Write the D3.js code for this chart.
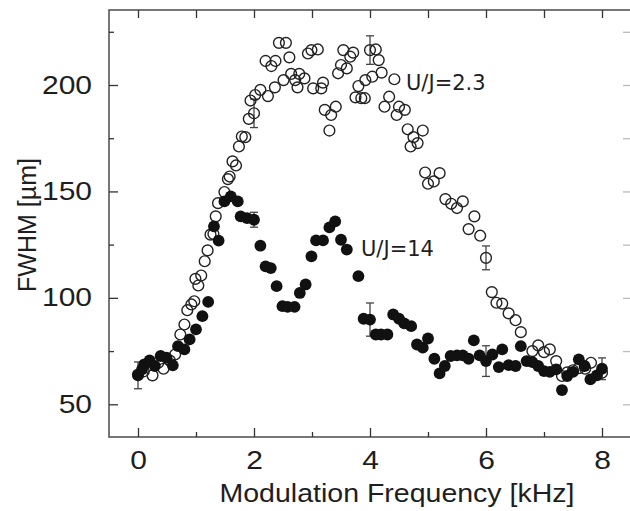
<!DOCTYPE html>
<html>
<head>
<meta charset="utf-8">
<script src="https://cdn.jsdelivr.net/npm/d3@7"></script>
<style>
  body { margin: 0; background: #fff; }
  svg { display: block; }
</style>
</head>
<body>
<svg width="630" height="511"></svg>
<script>
// U/J = 14  (filled circles), [kHz, FWHM um]
var strongData = [
  [0.00, 63.6], [0.07, 66.4], [0.11, 68.8], [0.20, 70.6], [0.29, 68.0], [0.39, 72.7],
  [0.49, 71.9], [0.60, 68.3], [0.69, 77.3], [0.80, 75.8], [0.89, 80.5], [1.00, 85.2],
  [1.11, 91.4], [1.21, 98.1], [1.31, 133.6], [1.39, 126.9], [1.49, 145.3], [1.60, 147.7],
  [1.72, 145.3], [1.77, 138.3], [1.88, 137.5], [2.00, 136.7], [2.11, 124.5], [2.20, 114.8],
  [2.29, 114.0], [2.39, 105.5], [2.49, 96.1], [2.58, 95.8], [2.70, 95.8], [2.79, 102.3],
  [2.89, 106.3], [2.99, 119.5], [3.07, 127.0], [3.19, 127.0], [3.30, 133.1], [3.40, 135.9],
  [3.50, 127.3], [3.60, 122.7], [3.80, 110.2], [3.89, 90.2], [4.00, 89.8], [4.10, 82.8],
  [4.19, 82.8], [4.30, 82.8], [4.40, 92.2], [4.50, 90.2], [4.59, 88.0], [4.71, 86.7],
  [4.81, 78.1], [4.91, 76.6], [5.00, 80.9], [5.11, 71.4], [5.20, 64.5], [5.29, 68.0],
  [5.39, 72.7], [5.50, 73.0], [5.60, 73.0], [5.70, 71.4], [5.79, 80.0], [5.89, 73.0],
  [6.00, 70.3], [6.11, 73.4], [6.22, 67.5], [6.28, 75.8], [6.39, 68.4], [6.51, 68.0],
  [6.60, 77.3], [6.70, 70.3], [6.80, 69.8], [6.90, 68.0], [7.00, 65.6], [7.10, 65.2],
  [7.21, 66.4], [7.31, 56.7], [7.40, 63.3], [7.50, 65.2], [7.60, 71.1], [7.70, 68.0],
  [7.80, 61.7], [7.91, 63.6], [8.00, 66.7]
];

// U/J = 2.3  (open circles)
var weakData = [
  [0.00, 64.0], [0.10, 65.5], [0.25, 63.6], [0.35, 69.5], [0.44, 66.7], [0.55, 70.5],
  [0.64, 73.4], [0.73, 82.8], [0.80, 87.5], [0.85, 94.2], [0.92, 96.9], [0.97, 98.4],
  [0.99, 108.9], [1.04, 105.8], [1.09, 110.5], [1.15, 117.2], [1.20, 122.3], [1.25, 129.7],
  [1.30, 130.0], [1.34, 138.3], [1.38, 144.5], [1.49, 149.7], [1.55, 155.8], [1.58, 157.0],
  [1.63, 164.1], [1.69, 162.2], [1.74, 171.1], [1.79, 175.8], [1.85, 175.5], [1.91, 184.1],
  [1.94, 192.7], [2.00, 186.7], [2.02, 195.3], [2.11, 197.7], [2.20, 211.3], [2.24, 194.8],
  [2.30, 208.9], [2.36, 198.9], [2.37, 211.3], [2.43, 219.8], [2.51, 202.3], [2.55, 219.8],
  [2.61, 213.0], [2.64, 205.2], [2.71, 202.3], [2.75, 198.9], [2.78, 205.2], [2.87, 203.1],
  [2.93, 214.8], [2.99, 216.4], [3.02, 198.4], [3.10, 216.7], [3.16, 198.4], [3.19, 201.1],
  [3.22, 188.3], [3.30, 178.6], [3.33, 185.9], [3.41, 189.8], [3.45, 205.5], [3.50, 209.4],
  [3.54, 216.4], [3.60, 207.8], [3.66, 213.3], [3.71, 215.2], [3.75, 194.2], [3.80, 199.5],
  [3.85, 193.8], [3.91, 193.8], [3.92, 202.3], [4.00, 216.4], [4.04, 203.9], [4.10, 216.7],
  [4.15, 211.7], [4.20, 205.8], [4.25, 189.8], [4.33, 194.5], [4.42, 202.7], [4.46, 185.9],
  [4.50, 189.8], [4.60, 188.3], [4.65, 179.2], [4.70, 171.1], [4.75, 175.5], [4.82, 172.7],
  [4.91, 178.6], [4.95, 158.9], [5.00, 153.6], [5.10, 154.7], [5.20, 158.6], [5.30, 146.4],
  [5.40, 144.2], [5.50, 142.2], [5.60, 145.3], [5.70, 132.3], [5.80, 138.3], [5.90, 129.2],
  [6.00, 118.8], [6.10, 102.7], [6.18, 97.7], [6.28, 97.3], [6.39, 92.7], [6.51, 89.5],
  [6.60, 83.9], [6.80, 75.0], [6.90, 77.7], [7.00, 74.5], [7.10, 75.8], [7.21, 70.3],
  [7.31, 63.3], [7.40, 65.0], [7.50, 66.0], [7.60, 67.0], [7.71, 66.7], [7.81, 69.5],
  [8.00, 64.8]
];

// error bars: [kHz, value, half-height]
var strongErr = [[0, 63.6, 6.3], [2, 136.7, 3.5], [4, 89.8, 7.8], [6, 70.3, 7.2], [8, 66.7, 5.1]];
var weakErr = [[2, 186.7, 6.7], [4, 216.4, 6.7], [6, 118.8, 5.6]];

var xMajor = [0, 2, 4, 6, 8];
var xMinor = [1, 3, 5, 7];
var yMajor = [50, 100, 150, 200];
var yMinor = [75, 125, 175, 225];

var svg = d3.select("svg");
var mLeft = 109, mTop = 10, mBottom = 437, mRight = 631;

var x = d3.scaleLinear().domain([0, 8]).range([138, 602]);
var y = d3.scaleLinear().domain([50, 200]).range([404.3, 85]);

var ink = "#1e1e1e", axisCol = "#555";

// frame
svg.append("rect")
    .attr("x", mLeft).attr("y", mTop)
    .attr("width", mRight - mLeft).attr("height", mBottom - mTop)
    .attr("fill", "none").attr("stroke", axisCol).attr("stroke-width", 1.6);

function styleAxis(g) {
    g.select(".domain").remove();
    g.selectAll(".tick line").attr("stroke", "#333").attr("stroke-width", 1.3);
}

// bottom
svg.append("g").attr("transform", "translate(0," + mBottom + ")")
    .call(d3.axisBottom(x).tickValues(xMajor).tickSize(-9).tickPadding(14))
    .call(styleAxis)
    .call(function (g) {
        g.selectAll(".tick text")
            .attr("fill", ink).attr("font-family", "Liberation Sans, Arial, sans-serif")
            .attr("font-size", 25).attr("transform", "scale(1.2,1)");
    });
svg.append("g").attr("transform", "translate(0," + mBottom + ")")
    .call(d3.axisBottom(x).tickValues(xMinor).tickSize(-5).tickFormat(""))
    .call(styleAxis);

// top
svg.append("g").attr("transform", "translate(0," + mTop + ")")
    .call(d3.axisTop(x).tickValues(xMajor.concat(xMinor)).tickSize(-8).tickFormat(""))
    .call(styleAxis);

// left
svg.append("g").attr("transform", "translate(" + mLeft + ",0)")
    .call(d3.axisLeft(y).tickValues(yMajor).tickSize(-9).tickPadding(0))
    .call(styleAxis)
    .call(function (g) {
        g.selectAll(".tick text")
            .attr("x", -17 / 1.2)
            .attr("fill", ink).attr("font-family", "Liberation Sans, Arial, sans-serif")
            .attr("font-size", 25).attr("transform", "scale(1.2,1)");
    });
svg.append("g").attr("transform", "translate(" + mLeft + ",0)")
    .call(d3.axisLeft(y).tickValues(yMinor).tickSize(-5).tickFormat(""))
    .call(styleAxis);

// right (faint)
svg.append("g").attr("transform", "translate(" + mRight + ",0)")
    .call(d3.axisRight(y).tickValues(yMajor.concat(yMinor)).tickSize(-8).tickFormat(""))
    .call(styleAxis)
    .call(function (g) { g.selectAll(".tick line").attr("stroke", "#bbb"); });

// axis titles
svg.append("text")
    .attr("x", 397).attr("y", 502)
    .attr("text-anchor", "middle")
    .attr("font-family", "Liberation Sans, Arial, sans-serif")
    .attr("font-size", 25).attr("fill", ink)
    .attr("textLength", 355).attr("lengthAdjust", "spacingAndGlyphs")
    .text("Modulation Frequency [kHz]");

svg.append("text")
    .attr("transform", "translate(36,225) rotate(-90)")
    .attr("text-anchor", "middle")
    .attr("font-family", "Liberation Sans, Arial, sans-serif")
    .attr("font-size", 25).attr("fill", ink)
    .text("FWHM [\u00b5m]");

// error bars
function errBars(data) {
    var g = svg.append("g").attr("stroke", "#444").attr("stroke-width", 1.3);
    data.forEach(function (d) {
        var cx = x(d[0]), y0 = y(d[1] - d[2]), y1 = y(d[1] + d[2]);
        g.append("line").attr("x1", cx).attr("x2", cx).attr("y1", y0).attr("y2", y1);
        g.append("line").attr("x1", cx - 4).attr("x2", cx + 4).attr("y1", y0).attr("y2", y0);
        g.append("line").attr("x1", cx - 4).attr("x2", cx + 4).attr("y1", y1).attr("y2", y1);
    });
}
errBars(weakErr);
errBars(strongErr);

svg.append("g").selectAll("circle")
    .data(weakData)
    .enter().append("circle")
    .attr("cx", function (d) { return x(d[0]); })
    .attr("cy", function (d) { return y(d[1]); })
    .attr("r", 5.4)
    .attr("fill", "none")
    .attr("stroke", "#222")
    .attr("stroke-width", 1.4);

svg.append("g").selectAll("circle")
    .data(strongData)
    .enter().append("circle")
    .attr("cx", function (d) { return x(d[0]); })
    .attr("cy", function (d) { return y(d[1]); })
    .attr("r", 5.9)
    .attr("fill", "#111");

// labels
svg.append("text").attr("x", 406).attr("y", 90)
    .attr("font-family", "DejaVu Sans, sans-serif").attr("font-size", 21)
    .attr("fill", ink).text("U/J=2.3");
svg.append("text").attr("x", 361).attr("y", 256)
    .attr("font-family", "DejaVu Sans, sans-serif").attr("font-size", 21)
    .attr("fill", ink).text("U/J=14");
</script>
</body>
</html>
